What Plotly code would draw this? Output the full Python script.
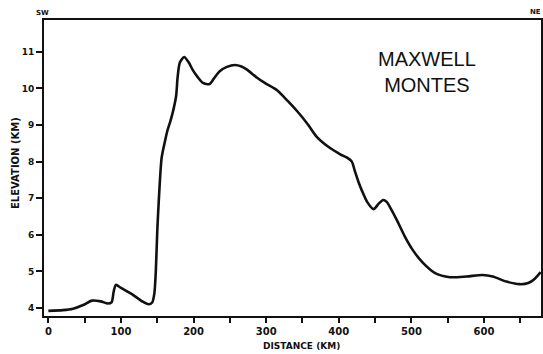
import plotly.graph_objects as go

distance_km = [0, 20, 34, 48, 60, 72, 82, 87, 90, 93, 100, 115, 130, 138, 143, 146, 148, 150, 152, 156,
               160, 164, 168, 172, 176, 178, 181, 187, 193, 199, 206, 213, 222, 229, 236, 246, 257, 266,
               273, 287, 298, 315, 330, 346, 358, 370, 388, 402, 412, 418, 422, 427, 432, 439, 448, 455,
               461, 466, 472, 480, 491, 502, 516, 532, 553, 576, 598, 612, 631, 649, 661, 670, 678]
elevation_km = [3.92, 3.94, 3.98, 4.08, 4.2, 4.18, 4.12, 4.15, 4.45, 4.63, 4.55, 4.38, 4.17, 4.1, 4.15,
                4.4, 5.0, 6.1, 6.9, 8.1, 8.5, 8.85, 9.1, 9.4, 9.8, 10.3, 10.7, 10.86, 10.72, 10.5, 10.3,
                10.15, 10.12, 10.3, 10.47, 10.59, 10.64, 10.6, 10.52, 10.3, 10.15, 9.95, 9.65, 9.3, 9.0,
                8.67, 8.37, 8.2, 8.1, 8.0, 7.75, 7.45, 7.2, 6.9, 6.7, 6.85, 6.95, 6.9, 6.7, 6.4, 5.95,
                5.58, 5.23, 4.96, 4.84, 4.86, 4.9, 4.86, 4.72, 4.65, 4.68, 4.8, 4.98]

x_tick_vals = [0, 100, 200, 300, 400, 500, 600]
x_tick_text = ["0", "100", "200", "300", "400", "500", "600"]
y_tick_vals = [4, 5, 6, 7, 8, 9, 10, 11]
y_tick_text = ["4", "5", "6", "7", "8", "9", "10", "11"]

FONT = "DejaVu Sans"
INK = "#111111"

fig = go.Figure()
fig.add_trace(go.Scatter(
    x=distance_km, y=elevation_km, mode="lines",
    line=dict(color=INK, width=2.6, shape="spline", smoothing=0.7),
    hoverinfo="skip", showlegend=False,
))

W, H = 543, 354
L, R, T, B = 44, 2, 20, 38

fig.update_layout(
    width=W, height=H,
    margin=dict(l=L, r=R, t=T, b=B, autoexpand=False),
    paper_bgcolor="white", plot_bgcolor="white",
    font=dict(family=FONT, color=INK, size=10),
    xaxis=dict(
        range=[-6, 678.5], showgrid=False, zeroline=False, automargin=False,
        showline=True, linecolor=INK, linewidth=2, mirror=True,
        tickmode="array", tickvals=x_tick_vals, ticktext=x_tick_text,
        ticks="outside", ticklen=5, tickwidth=1.5, tickcolor=INK,
        tickfont=dict(family=FONT, size=10, weight="bold"),
        minor=dict(dtick=50, tick0=0, ticks="outside", ticklen=5, tickwidth=1.5, tickcolor=INK, showgrid=False),
    ),
    yaxis=dict(
        range=[3.78, 11.87], showgrid=False, zeroline=False, automargin=False,
        showline=True, linecolor=INK, linewidth=2, mirror=True,
        tickmode="array", tickvals=y_tick_vals, ticktext=y_tick_text,
        ticks="outside", ticklen=6, tickwidth=1.5, tickcolor=INK,
        tickfont=dict(family=FONT, size=9, weight="bold"),
    ),
)

pw = W - L - R
ph = H - T - B

def px_x(p):
    return (p - L) / pw

def px_y(p):
    return 1 - (p - T) / ph

annos = [
    dict(text="MAXWELL<br>MONTES", x=px_x(427), y=px_y(72), xanchor="center", yanchor="middle",
         font=dict(family="Liberation Sans", size=20, color=INK), align="center"),
    dict(text="DISTANCE (KM)", x=px_x(301), y=px_y(346), xanchor="center", yanchor="middle",
         font=dict(family=FONT, size=9, weight="bold", color=INK)),
    dict(text="ELEVATION (KM)", x=px_x(15), y=px_y(163), xanchor="center", yanchor="middle",
         textangle=-90, font=dict(family=FONT, size=10, weight="bold", color=INK)),
    dict(text="SW", x=px_x(42), y=px_y(13), xanchor="center", yanchor="middle",
         font=dict(family=FONT, size=7, weight="bold", color=INK)),
    dict(text="NE", x=px_x(543), y=px_y(12), xanchor="right", yanchor="middle",
         font=dict(family=FONT, size=7, weight="bold", color=INK)),
]
for a in annos:
    a.update(xref="paper", yref="paper", showarrow=False)
    fig.add_annotation(**a)

fig.write_html("out.html", config={"displayModeBar": False},
               post_script="document.body.style.margin='0px';")
